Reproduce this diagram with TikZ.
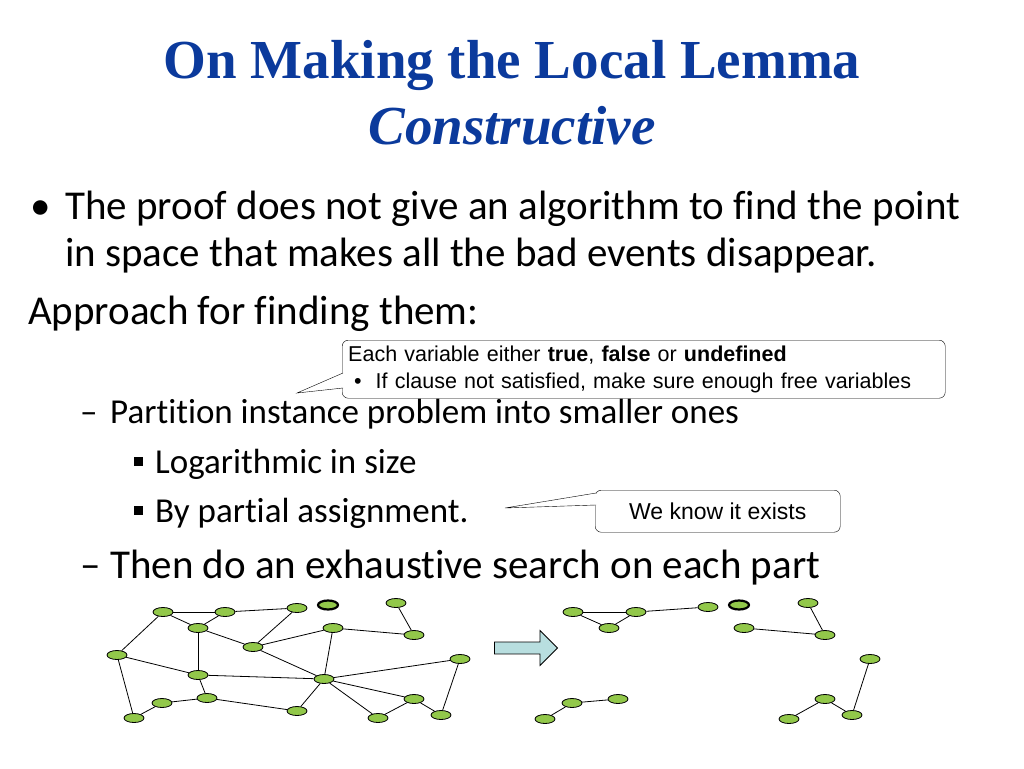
\documentclass[tikz,border=0pt]{standalone}
\usepackage{fontspec}
\setmainfont[Ligatures=NoCommon]{Carlito}
\newfontfamily\titlefont{Liberation Serif}
\newfontfamily\boxfont{Liberation Sans}
\usetikzlibrary{shapes.geometric, shapes.arrows, positioning}
\definecolor{titleblue}{HTML}{0B3A9C}
\definecolor{vgreen}{HTML}{92C84A}
\definecolor{arrowcyan}{HTML}{B8DEDF}
\tikzset{
x=1pt, y=-1pt,
vertex/.style={ellipse, draw, thick, fill=vgreen, minimum width=20pt, minimum height=9pt, inner sep=0pt}, % small green ellipse
hollow/.style={vertex, line width=2.2pt}, % the removed variable
txt/.style={anchor=base west, inner sep=0pt, font=\fontsize{41}{46}\selectfont},
subtxt/.style={anchor=base west, inner sep=0pt, font=\fontsize{35}{40}\selectfont},
callout/.style={draw, rounded corners=6pt, fill=white},
}
\begin{document}
\begin{tikzpicture}
\useasboundingbox (0,0) rectangle (1024,768);
% title
\node[text=titleblue, font=\titlefont\bfseries\fontsize{55}{60}\selectfont] (t1) at (512,65) {On Making the Local Lemma};
\node[text=titleblue, font=\titlefont\bfseries\itshape\fontsize{55}{60}\selectfont] (t2) at (512,126) {Constructive};
% bullets
\node[txt] (b0) at (30,219) {\textbullet};
\node[txt] (b1) at (65,219) {The proof does not give an algorithm to find the point};
\node[txt] (b2) at (65,266) {in space that makes all the bad events disappear.};
\node[txt] (b3) at (28,324) {Approach for finding them:};
\node[subtxt] (d1) at (80,423) {--};
\node[subtxt] (p1) at (110,423) {Partition instance problem into smaller ones};
\node[fill, minimum size=9pt, inner sep=0pt] (q1) at (138,461) {};
\node[subtxt] (p2) at (155,473) {Logarithmic in size};
\node[fill, minimum size=9pt, inner sep=0pt] (q2) at (138,510) {};
\node[subtxt] (p3) at (155,522) {By partial assignment.};
\node[txt] (d2) at (80,578) {--};
\node[txt] (p4) at (110,578) {Then do an exhaustive search on each part};
% callouts
\node[callout, minimum width=603pt, minimum height=58pt, text width=591pt, align=left, anchor=north west, font=\boxfont\fontsize{21.5}{27}\selectfont, inner sep=6pt, inner ysep=3pt] (c1) at (342,340)
  {Each variable either \textbf{true}, \textbf{false} or \textbf{undefined}\\
   \hspace*{6pt}\textbullet\hspace{14pt}If clause not satisfied, make sure enough free variables};
\coordinate (tip1) at (297,393);
\fill[white] (tip1) -- (343,373) -- (343,388) -- cycle;
\draw (343,373) -- (tip1) -- (343,388);
\node[callout, minimum width=245pt, minimum height=42pt, anchor=north west, font=\boxfont\fontsize{23}{26}\selectfont] (c2) at (595,490) {We know it exists};
\coordinate (tip2) at (505,508);
\fill[white] (tip2) -- (596,493) -- (596,505) -- cycle;
\draw (596,493) -- (tip2) -- (596,505);
% left graph
\foreach \n/\x/\y in {a/163/612, b/225/612, c/198/628, d/297/608, f/396/603, g/333/628, h/414/635,
  i/253/647, j/117/655, k/198/675, l/460/659, m/324/679, n/162/703, o/207/698, p/134/718,
  q/297/711, r/378/718, s/414/699, t/441/715}
  \node[vertex] (\n) at (\x,\y) {};
\node[hollow] (e) at (328,605) {};
\foreach \u/\v in {a/b, a/c, a/j, b/c, b/d, c/k, c/i, d/i, i/g, g/h, g/m, i/m, f/h, j/k, j/p,
  k/m, k/o, n/o, n/p, o/q, q/m, m/r, m/s, m/l, s/r, s/t, t/l}
  \draw[thick] (\u) -- (\v);
% arrow
\node[single arrow, draw, thick, fill=arrowcyan, minimum width=35pt, single arrow head extend=8.5pt, minimum height=63pt, inner sep=4pt, single arrow tip angle=90] (arr) at (523,648) {};
% right graph
\foreach \n/\x/\y in {A/573/612, B/636/612, C/609/628, D/708/607, F/808/603, G/744/628, H/825/635,
  I/870/659, J/825/699, K/852/715, L/789/719, M/572/703, N/618/699, O/545/719}
  \node[vertex] (\n) at (\x,\y) {};
\node[hollow] (E) at (739,605) {};
\foreach \u/\v in {A/B, A/C, C/B, B/D, F/H, G/H, I/K, J/K, J/L, M/N, M/O}
  \draw[thick] (\u) -- (\v);
\end{tikzpicture}
\end{document}
